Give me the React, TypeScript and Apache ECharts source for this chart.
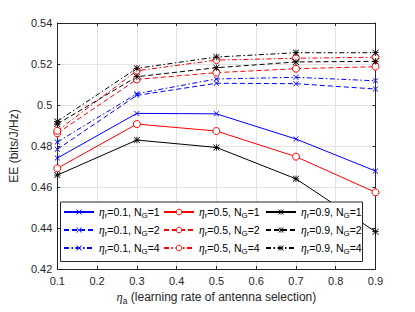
import React, { useEffect, useRef } from "react";
import * as echarts from "echarts";

const xValues = [0.1, 0.3, 0.5, 0.7, 0.9];
const etaR = ["0.1", "0.5", "0.9"];
const nG = ["1", "2", "4"];
// eta_r = 0.1 (blue)
const b1 = [0.4741, 0.4959, 0.4957, 0.4834, 0.4678];
const b2 = [0.4784, 0.5047, 0.5106, 0.5104, 0.5078];
const b4 = [0.4819, 0.5055, 0.5127, 0.5135, 0.5118];
// eta_r = 0.5 (red)
const r1 = [0.4691, 0.4907, 0.4873, 0.4748, 0.4574];
const r2 = [0.4862, 0.5125, 0.5158, 0.5177, 0.5187];
const r4 = [0.4874, 0.5167, 0.5219, 0.5228, 0.5233];
// eta_r = 0.9 (black)
const k1 = [0.4658, 0.4829, 0.4793, 0.464, 0.4382];
const k2 = [0.4907, 0.5138, 0.5182, 0.521, 0.5213];
const k4 = [0.492, 0.5179, 0.5234, 0.5255, 0.5255];

const groups = [
  [b1, b2, b4],
  [r1, r2, r4],
  [k1, k2, k4],
];

const colors = ["#0000ff", "#ff0000", "#000000"];
const X_PATH =
  "path://M0.9,0 L5,4.1 L9.1,0 L10,0.9 L5.9,5 L10,9.1 L9.1,10 L5,5.9 L0.9,10 L0,9.1 L4.1,5 L0,0.9 Z";
const STAR_PATH =
  "path://M4.4,0 L5.6,0 L5.6,10 L4.4,10 Z M0,4.4 L10,4.4 L10,5.6 L0,5.6 Z M0.8,0 L10,9.2 L9.2,10 L0,0.8 Z M9.2,0 L10,0.8 L0.8,10 L0,9.2 Z";
const symbols = [X_PATH, "circle", STAR_PATH];
const symbolSizes = [5.5, 7, 6.5];
const dashes: any[] = ["solid", [5, 3], [5, 2.5, 1.5, 2.5]];

const nameOf = (i: number, j: number) => `ηr=${etaR[i]}, NG=${nG[j]}`;

export default function App() {
  const ref = useRef<HTMLDivElement>(null);
  useEffect(() => {
    document.body.style.margin = "0";
    if (!ref.current) return;
    const chart = echarts.init(ref.current, null, { renderer: "svg" });
    const series: any[] = [];
    groups.forEach((g, i) => {
      g.forEach((vals, j) => {
        series.push({
          type: "line",
          name: nameOf(i, j),
          data: xValues.map((x, k) => [x, vals[k]]),
          symbol: symbols[i],
          symbolSize: symbolSizes[i],
          showSymbol: true,
          color: colors[i],
          lineStyle: { color: colors[i], width: 1, type: dashes[j] },
          itemStyle:
            i === 1
              ? { color: "#ffffff", borderColor: colors[i], borderWidth: 1 }
              : { color: colors[i], borderWidth: 0 },
          xAxisIndex: 0,
          yAxisIndex: 0,
          z: 2,
        });
      });
    });
    const rich = {
      i: { fontStyle: "italic", fontSize: 11.5, fontFamily: "Liberation Serif", color: "#000" },
      s: { fontSize: 8, verticalAlign: "bottom", lineHeight: 14, color: "#000", fontFamily: "Liberation Sans" },
      n: { fontSize: 10.5, color: "#000", fontFamily: "Liberation Sans", lineHeight: 14 },
    };
    const legendFormatter = (name: string) => {
      const m = name.match(/ηr=(.*), NG=(.*)/);
      if (!m) return name;
      return `{i|η}{s|r}{n|=${m[1]}, N}{s|G}{n|=${m[2]}}`;
    };
    const legendLefts = [63, 163, 265];
    const legends = [0, 1, 2].map((i) => ({
      orient: "vertical",
      left: legendLefts[i],
      top: 206,
      itemWidth: 30,
      itemHeight: 7,
      itemGap: 5,
      data: [0, 1, 2].map((j) => nameOf(i, j)),
      formatter: legendFormatter,
      textStyle: { rich, fontSize: 10.5, color: "#000" },
      itemStyle: i === 1 ? { borderWidth: 1 } : { borderWidth: 0 },
      padding: 0,
      selectedMode: false,
      z: 5,
    }));
    const axisColor = "#262626";
    const baseX = {
      type: "value",
      min: 0.1,
      max: 0.9,
      interval: 0.1,
      axisLine: { show: true, lineStyle: { color: axisColor, width: 1 } },
      axisTick: { show: true, inside: true, length: 3, lineStyle: { color: axisColor } },
    };
    const baseY = {
      type: "value",
      min: 0.42,
      max: 0.54,
      interval: 0.02,
      axisLine: { show: true, lineStyle: { color: axisColor, width: 1 } },
      axisTick: { show: true, inside: true, length: 3, lineStyle: { color: axisColor } },
    };
    chart.setOption({
      animation: false,
      backgroundColor: "#ffffff",
      grid: { left: 53.5, right: 39.5, top: 23, bottom: 43, containLabel: false },
      xAxis: [
        {
          ...baseX,
          position: "bottom",
          axisLabel: {
            show: true,
            color: axisColor,
            fontSize: 11,
            fontFamily: "Liberation Sans",
            margin: 6,
            formatter: (v: number) => String(Math.round(v * 10) / 10),
          },
          splitLine: { show: true, lineStyle: { color: "#e3e3e3", width: 1 } },
          name: "{i|η}{s|a}{n| (learning rate of antenna selection)}",
          nameLocation: "middle",
          nameGap: 20,
          nameTextStyle: {
            rich: {
              i: { fontStyle: "italic", fontSize: 12.5, fontFamily: "Liberation Serif", color: "#262626" },
              s: { fontSize: 8.5, verticalAlign: "bottom", lineHeight: 16, color: "#262626", fontFamily: "Liberation Sans" },
              n: { fontSize: 12, color: "#262626", fontFamily: "Liberation Sans", lineHeight: 16 },
            },
          },
        },
        {
          ...baseX,
          position: "top",
          axisLabel: { show: false },
          splitLine: { show: false },
        },
      ],
      yAxis: [
        {
          ...baseY,
          position: "left",
          axisLabel: {
            show: true,
            color: axisColor,
            fontSize: 11,
            fontFamily: "Liberation Sans",
            margin: 5,
            formatter: (v: number) => String(Math.round(v * 100) / 100),
          },
          splitLine: { show: true, lineStyle: { color: "#e3e3e3", width: 1 } },
          name: "EE (bits/J/Hz)",
          nameLocation: "middle",
          nameGap: 29,
          nameTextStyle: { color: axisColor, fontSize: 12, fontFamily: "Liberation Sans" },
        },
        {
          ...baseY,
          position: "right",
          axisLabel: { show: false },
          splitLine: { show: false },
        },
      ],
      legend: legends,
      graphic: [
        {
          type: "rect",
          left: 60,
          top: 201.5,
          shape: { width: 302, height: 59.5 },
          style: { fill: "#ffffff", stroke: axisColor, lineWidth: 1 },
          z: 3,
        },
      ],
      series,
    });
    return () => chart.dispose();
  }, []);
  return <div ref={ref} style={{ width: 415, height: 312 }} />;
}
